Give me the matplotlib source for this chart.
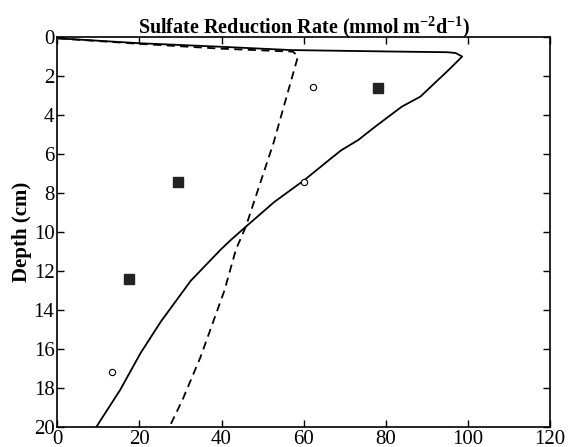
import numpy as np
import matplotlib
matplotlib.use("Agg")
import matplotlib.pyplot as plt

plt.rcParams['font.family'] = ['Liberation Serif', 'DejaVu Serif']
plt.rcParams['mathtext.fontset'] = 'custom'
plt.rcParams['mathtext.rm'] = 'Liberation Serif:bold'

# model curve, solid
solid_rate = [0.3, 20.2, 39.8, 57.0, 80.0, 95.0, 97.0, 98.6, 95.5, 88.4, 83.9, 77.4,
              73.3, 69.2, 66.8, 60.2, 52.9, 45.9, 42.3, 39.8, 32.5, 25.2, 20.3, 15.3, 10.4, 9.5]
solid_depth = [0.07, 0.32, 0.5, 0.67, 0.74, 0.78, 0.82, 1.0, 1.65, 3.06, 3.57, 4.6,
               5.28, 5.8, 6.2, 7.33, 8.45, 9.73, 10.4, 10.9, 12.5, 14.6, 16.2, 18.1, 19.7, 20.0]

# model curve, dashed
dash_rate = [0.3, 20.0, 40.0, 57.4, 58.6, 52.7, 45.9, 43.5, 40.7, 34.9, 30.5, 27.3]
dash_depth = [0.07, 0.35, 0.6, 0.75, 1.0, 5.4, 9.73, 10.9, 13.0, 16.4, 18.6, 20.0]

# measured values
circ_rate = [62.3, 60.1, 13.4]
circ_depth = [2.58, 7.42, 17.2]
sq_rate = [78.0, 29.4, 17.4]
sq_depth = [2.63, 7.42, 12.43]

fig = plt.figure(figsize=(5.69, 4.47), dpi=100)
ax = fig.add_axes([0.1007, 0.0447, 0.866, 0.8725])

ax.plot(solid_rate, solid_depth, color='black', lw=1.3)
ax.plot(dash_rate, dash_depth, color='black', lw=1.3, dashes=(4.5, 3))
ax.plot(circ_rate, circ_depth, 'o', mfc='white', mec='black', ms=4.5, mew=0.8)
ax.plot(sq_rate, sq_depth, 's', color='#222222', ms=7)

ax.set_xlim(0, 120)
ax.set_ylim(20, 0)
ax.set_xticks(np.arange(0, 121, 20))
ax.set_yticks(np.arange(0, 21, 2))
ax.tick_params(direction='in', top=True, right=True, length=5, width=1,
               labelsize=15, pad=2)
for s in ax.spines.values():
    s.set_linewidth(1.2)

ax.set_ylabel('Depth (cm)', fontsize=15, fontweight='bold', labelpad=1)
ax.set_title(r'Sulfate Reduction Rate (mmol m$^{-2}$d$^{-1}$)', fontsize=14.5,
             fontweight='bold', pad=3)

fig.savefig('out.png', dpi=100)
